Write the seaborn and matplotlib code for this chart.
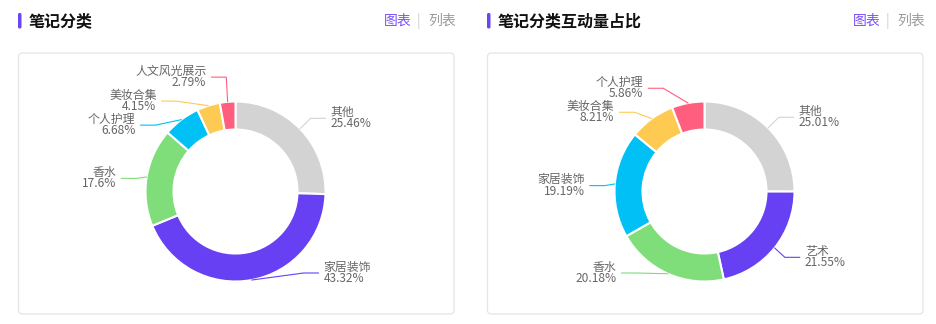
import numpy as np
import matplotlib
matplotlib.use("Agg")
import matplotlib.pyplot as plt
from matplotlib.patches import FancyBboxPatch
import seaborn as sns

# data
left_title = "笔记分类"
left_names = ["其他", "家居装饰", "香水", "个人护理", "美妆合集", "人文风光展示"]
left_pct = [25.46, 43.32, 17.6, 6.68, 4.15, 2.79]

right_title = "笔记分类互动量占比"
right_names = ["其他", "艺术", "香水", "家居装饰", "美妆合集", "个人护理"]
right_pct = [25.01, 21.55, 20.18, 19.19, 8.21, 5.86]

palette = ["#d3d3d3", "#6640f2", "#7fdd7a", "#00c0f5", "#ffca52", "#ff5e7e"]

sns.set_theme(style="white")
plt.rcParams["font.family"] = ["Noto Sans CJK SC", "DejaVu Sans"]

W, H = 936, 324
fig = plt.figure(figsize=(W / 100, H / 100), dpi=100)
ax = fig.add_axes([0, 0, 1, 1])

R_OUT, RING = 90, 28
LEN1, LEN2, GAP, LH = 15, 15, 5, 24
TOP, BOTTOM = 55, 297


def label_layout(values, cx, cy):
    """echarts-like outside label placement, pixel coords (y down)"""
    total = float(sum(values))
    items = []
    a0 = 0.0
    for i, v in enumerate(values):
        span = v / total * 360
        t = np.radians(a0 + span / 2)
        a0 += span
        dx, dy = np.sin(t), -np.cos(t)
        side = -1 if dx < 0 else 1
        x2 = cx + (R_OUT + LEN1) * dx
        y2 = cy + (R_OUT + LEN1) * dy
        items.append(dict(i=i, side=side, x1=cx + R_OUT * dx, y1=cy + R_OUT * dy,
                          x=x2 + side * (LEN2 + GAP), y=y2))

    for side in (1, -1):
        lst = sorted([d for d in items if d["side"] == side], key=lambda d: d["y"])
        n = len(lst)

        def shift_up(end, delta):
            for j in range(end, -1, -1):
                if lst[j]["y"] - delta < TOP:
                    break
                lst[j]["y"] -= delta
                if j > 0 and lst[j]["y"] > lst[j - 1]["y"] + LH:
                    break

        def shift_down(start, end, delta):
            for j in range(start, end):
                if lst[j]["y"] + delta > BOTTOM:
                    break
                lst[j]["y"] += delta
                if j > start and j + 1 < end and lst[j + 1]["y"] > lst[j]["y"] + LH:
                    shift_up(j, delta / 2)
                    return
            shift_up(end - 1, delta / 2)

        last = 0
        for k in range(n):
            delta = lst[k]["y"] - last
            if delta < 0:
                shift_down(k, n, -delta)
            last = lst[k]["y"] + LH
        if BOTTOM - last < 0:
            shift_up(n - 1, last - BOTTOM)

        for is_down in (False, True):
            grp = [d for d in lst if (d["y"] >= cy) == is_down]
            last_dx = np.inf if is_down else 0
            for d in grp:
                ddy = abs(d["y"] - cy)
                if ddy < R_OUT + LEN1:
                    ddx = np.sqrt((R_OUT + LEN1 + LEN2) ** 2 - ddy ** 2)
                else:
                    ddx = abs(d["x"] - cx)
                if is_down and ddx >= last_dx:
                    ddx = last_dx - 10
                if not is_down and ddx <= last_dx:
                    ddx = last_dx + 10
                d["x"] = cx + ddx * side
                last_dx = ddx
    return items


def panel(x0, title, names, pct):
    # card
    ax.add_patch(FancyBboxPatch((x0 + 0.5, H - 314), 435.5, 261,
                                boxstyle="round,pad=0,rounding_size=4",
                                fc="white", ec="#e5e5e5", lw=0.9, zorder=0))
    # header
    ax.add_patch(FancyBboxPatch((x0, H - 28.5), 3.5, 15.5,
                                boxstyle="round,pad=0,rounding_size=1.5",
                                fc="#6a45f5", ec="none"))
    ax.text(x0 + 11, H - 21, title, fontsize=11.5, fontweight="bold",
            color="#111111", ha="left", va="center")
    ax.text(x0 + 366, H - 21, "图表", fontsize=10, color="#7b4ff7", ha="left", va="center")
    ax.text(x0 + 400, H - 21, "|", fontsize=10, color="#cfcfcf", ha="center", va="center")
    ax.text(x0 + 410, H - 21, "列表", fontsize=10, color="#9a9a9a", ha="left", va="center")

    cx, cy = x0 + 217.5, 191.5
    ax.pie(pct, colors=palette[:len(pct)], startangle=90, counterclock=False,
           radius=R_OUT, center=(cx, H - cy),
           wedgeprops=dict(width=RING, edgecolor="white", linewidth=1.5))

    for d in label_layout(pct, cx, cy):
        i, s = d["i"], d["side"]
        x3 = d["x"] - s * GAP
        x2 = x3 - s * LEN2
        ax.plot([d["x1"], x2, x3], [H - d["y1"], H - d["y"], H - d["y"]],
                color=palette[i], lw=0.8, solid_joinstyle="miter")
        ha = "left" if s > 0 else "right"
        ax.text(d["x"], H - d["y"] + 6, names[i], fontsize=8.6, color="#666666",
                ha=ha, va="center")
        ax.text(d["x"], H - d["y"] - 5.5, f"{pct[i]:g}%", fontsize=8.6, color="#666666",
                ha=ha, va="center")


panel(18, left_title, left_names, left_pct)
panel(487, right_title, right_names, right_pct)

ax.set_xlim(0, W)
ax.set_ylim(0, H)
ax.set_aspect("auto")
ax.axis("off")

fig.savefig("out.png", dpi=100, facecolor="white")
